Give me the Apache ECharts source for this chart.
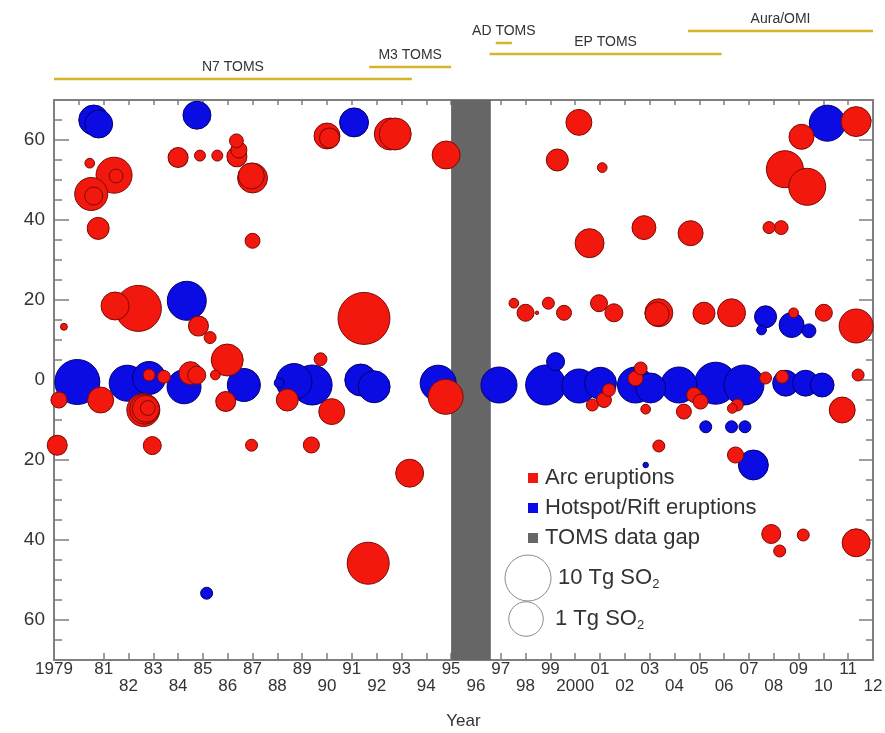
<!DOCTYPE html>
<html>
<head>
<meta charset="utf-8">
<script src="https://cdn.jsdelivr.net/npm/echarts@6/dist/echarts.min.js"></script>
<style>
  html, body { margin: 0; padding: 0; background: #fff; }
  #chart { width: 885px; height: 733px; }
</style>
</head>
<body>
<div id="chart"></div>
<script>
// ---- Eruption data: decimal year, latitude (deg, + north / - south), SO2 mass (kt) ----
const arcYear = [1980.44, 1981.42, 1981.5, 1980.5, 1980.6, 1980.78, 1984.0, 1984.88, 1985.58, 1986.35,
  1986.37, 1986.45, 1987.0, 1986.95, 1987.0, 1981.46, 1982.4, 1979.4, 1984.82, 1985.29,
  1985.98, 1985.5, 1979.2, 1980.88, 1982.6, 1982.65, 1982.7, 1982.78, 1982.83, 1983.43,
  1984.5, 1984.75, 1985.92, 1979.13, 1982.96, 1986.96, 1988.4, 1990.0, 1990.1, 1992.55,
  1992.75, 1994.8, 1991.49, 1989.74, 1990.19, 1989.37, 1993.33, 1991.66, 1994.78, 1997.53,
  1998.0, 1998.46, 1998.92, 1999.55, 1999.28, 2000.15, 2000.58, 2001.09, 2002.77, 2004.65,
  2009.12, 2011.32, 2008.45, 2009.35, 2007.81, 2008.3, 2000.96, 2001.56, 2003.37, 2003.3,
  2005.19, 2006.3, 2008.8, 2010.02, 2011.32, 2011.4, 2010.76, 2003.37, 2006.46, 2007.9,
  2008.24, 2009.19, 2011.32, 2001.36, 2001.16, 2000.69, 2002.64, 2002.43, 2002.84, 2004.38,
  2004.79, 2005.05, 2006.33, 2006.53, 2007.67, 2008.34];
const arcLat = [54.2, 51.2, 51, 46.5, 46, 37.9, 55.6, 56.1, 56.1, 59.8,
  55.8, 57.5, 50.5, 51, 34.8, 18.5, 17.9, 13.3, 13.5, 10.6,
  5, 1.25, -5, -5, -7.5, -7.3, -7.2, -7, 1.25, 0.8,
  1.7, 1.2, -5.4, -16.3, -16.4, -16.3, -5, 61, 60.5, 61.5,
  61.5, 56.25, 15.4, 5.2, -7.9, -16.25, -23.3, -45.8, -4.2, 19.2,
  16.8, 16.8, 19.2, 16.8, 55, 64.4, 34.2, 53.1, 38.1, 36.7,
  60.8, 64.6, 52.7, 48.3, 38.1, 38.1, 19.2, 16.8, 16.8, 16.5,
  16.7, 16.8, 16.8, 16.8, 13.5, 1.25, -7.5, -16.5, -18.75, -38.5,
  -42.75, -38.75, -40.7, -2.5, -5, -6.25, 2.9, 0.4, -7.3, -7.9,
  -3.75, -5.4, -7.1, -6.25, 0.5, 0.8];
const arcSO2kt = [7, 1350, 16, 740, 37, 82, 55, 9, 9, 16,
  55, 25, 400, 180, 20, 270, 10000, 4, 55, 11,
  600, 7, 25, 180, 740, 400, 220, 20, 11, 13,
  100, 37, 55, 55, 37, 11, 82, 180, 55, 600,
  600, 270, 33000, 13, 180, 25, 270, 4500, 1100, 7,
  30, 2, 11, 20, 82, 180, 330, 7, 120, 150,
  150, 400, 1650, 1650, 11, 16, 30, 37, 270, 120,
  82, 270, 7, 30, 900, 11, 180, 11, 25, 45,
  11, 11, 270, 13, 20, 11, 13, 20, 7, 20,
  20, 20, 7, 11, 11, 13];

const hotYear = [1980.6, 1980.8, 1984.76, 1984.35, 1979.94, 1981.95, 1982.83, 1984.24, 1986.65, 1988.07,
  1988.67, 1989.4, 1991.09, 1991.36, 1991.9, 1994.48, 1996.93, 1998.81, 1999.21, 2000.15,
  2001.02, 2002.43, 2003.04, 2004.18, 2005.66, 2006.8, 2008.48, 2009.28, 2009.95, 2010.16,
  2007.67, 2007.51, 2008.72, 2009.42, 2005.26, 2006.3, 2006.84, 2007.18, 2002.84, 1985.15];
const hotLat = [65, 64, 66.2, 19.8, -0.5, -0.8, 0.5, -1.7, -1.25, -0.75,
  -0.4, -1.25, 64.4, 0, -1.7, -0.8, -1.25, -1.25, 4.6, -1.5,
  -0.8, -1.25, -2, -1.25, -0.8, -1.25, -0.8, -0.8, -1.25, 64.2,
  15.8, 12.5, 13.75, 12.3, -11.7, -11.7, -11.7, -21.25, -21.25, -53.3];
const hotSO2kt = [400, 270, 270, 2460, 8200, 1350, 740, 900, 740, 7,
  1350, 3000, 330, 600, 600, 1350, 1350, 3000, 37, 900,
  600, 1350, 400, 1350, 4500, 3000, 180, 180, 120, 1350,
  82, 7, 150, 16, 11, 11, 11, 400, 3, 11];

// TOMS data gap (decimal years)
const gapStart = 1995.0;
const gapEnd = 1996.6;

// Satellite instruments and their operating periods (decimal years)
const instNames = ['N7 TOMS', 'M3 TOMS', 'AD TOMS', 'EP TOMS', 'Aura/OMI'];
const instStart = [1979.0, 1991.7, 1996.8, 1996.55, 2004.55];
const instEnd = [1993.42, 1995.0, 1997.45, 2005.9, 2012.0];

// Axis ticks
const latMajor = [-60, -40, -20, 0, 20, 40, 60];
const latMinor = [-65, -55, -50, -45, -35, -30, -25, -15, -10, -5, 5, 10, 15, 25, 30, 35, 45, 50, 55, 65];
const yearMin = 1979, yearMax = 2012;
const latMin = -70, latMax = 70;

// ---- Layout / style ----
const FONT = "'Liberation Sans', Arial, Helvetica, sans-serif";
const AXIS_COLOR = '#7f7f7f';
const TEXT_COLOR = '#333';
const RED = '#f2180e', RED_EDGE = '#7a0a06';
const BLUE = '#0b0be4', BLUE_EDGE = '#00006e';
const GAP_COLOR = '#666666';
const INST_COLOR = '#d6b42a';
// vertical pixel row of each instrument bar within the header strip
const instRowPx = [79, 67, 43, 54, 31];

// bubble diameter grows with log of SO2 mass
function bubbleSize(kt) { return 11.5 * Math.log10(kt); }

function buildPoints(xs, ys, ms) {
  const pts = xs.map((x, i) => [x, ys[i], ms[i]]);
  // larger bubbles first so smaller ones stay visible on top
  pts.sort((a, b) => b[2] - a[2]);
  return pts;
}

const chart = echarts.init(document.getElementById('chart'), null, { renderer: 'canvas' });

const gridL = 54, gridR = 12;

const option = {
  animation: false,
  backgroundColor: '#fff',
  textStyle: { fontFamily: FONT },
  grid: [
    { left: gridL, right: gridR, top: 100, bottom: 73, outerBoundsMode: 'none', containLabel: false },
    { left: gridL, right: gridR, top: 0, height: 100, outerBoundsMode: 'none', containLabel: false }
  ],
  xAxis: [
    {
      gridIndex: 0, type: 'value', min: yearMin, max: yearMax, interval: 1,
      name: 'Year', nameLocation: 'middle', nameGap: 53,
      nameTextStyle: { fontSize: 17, color: TEXT_COLOR, fontFamily: FONT },
      axisLine: { show: true, onZero: false, lineStyle: { color: AXIS_COLOR, width: 2 } },
      axisTick: { show: true, inside: true, length: 7, lineStyle: { color: AXIS_COLOR, width: 1.5 } },
      splitLine: { show: false },
      axisLabel: {
        show: true, margin: 1, fontSize: 17, lineHeight: 17, color: TEXT_COLOR, fontFamily: FONT,
        showMinLabel: true, showMaxLabel: true,
        formatter: function (v) {
          const y = Math.round(v);
          const s = (y === 1979 || y === 2000) ? String(y) : String(y).slice(2);
          return y % 2 === 0 ? '\n' + s : s;
        }
      }
    },
    {
      gridIndex: 0, type: 'value', position: 'top', min: yearMin, max: yearMax, interval: 1,
      axisLine: { show: true, onZero: false, lineStyle: { color: AXIS_COLOR, width: 2 } },
      axisTick: { show: true, inside: true, length: 5, lineStyle: { color: AXIS_COLOR, width: 1.5 } },
      axisLabel: { show: false }, splitLine: { show: false }
    },
    {
      gridIndex: 1, type: 'value', min: yearMin, max: yearMax, show: false
    }
  ],
  yAxis: [
    {
      gridIndex: 0, type: 'value', position: 'left', min: latMin, max: latMax,
      axisLine: { show: true, onZero: false, lineStyle: { color: AXIS_COLOR, width: 2 } },
      axisTick: { show: true, inside: true, length: 15, customValues: latMajor, lineStyle: { color: AXIS_COLOR, width: 1.5 } },
      axisLabel: {
        show: true, customValues: latMajor, margin: 9, fontSize: 19, color: TEXT_COLOR, fontFamily: FONT,
        formatter: function (v) { return String(Math.abs(v)); }
      },
      splitLine: { show: false }
    },
    {
      gridIndex: 0, type: 'value', position: 'left', min: latMin, max: latMax,
      axisLine: { show: false },
      axisTick: { show: true, inside: true, length: 8, customValues: latMinor, lineStyle: { color: AXIS_COLOR, width: 1.5 } },
      axisLabel: { show: false }, splitLine: { show: false }
    },
    {
      gridIndex: 0, type: 'value', position: 'right', min: latMin, max: latMax,
      axisLine: { show: true, onZero: false, lineStyle: { color: AXIS_COLOR, width: 2 } },
      axisTick: { show: true, inside: true, length: 14, customValues: latMajor, lineStyle: { color: AXIS_COLOR, width: 1.5 } },
      axisLabel: { show: false }, splitLine: { show: false }
    },
    {
      gridIndex: 0, type: 'value', position: 'right', min: latMin, max: latMax,
      axisLine: { show: false },
      axisTick: { show: true, inside: true, length: 7, customValues: latMinor, lineStyle: { color: AXIS_COLOR, width: 1.5 } },
      axisLabel: { show: false }, splitLine: { show: false }
    },
    {
      gridIndex: 1, type: 'value', min: 0, max: 100, inverse: true, show: false
    }
  ],
  legend: {
    orient: 'vertical', left: 523, top: 462, itemGap: 8,
    itemWidth: 10, itemHeight: 10, icon: 'rect',
    itemStyle: { borderWidth: 0 },
    textStyle: { fontSize: 22, color: TEXT_COLOR, fontFamily: FONT, padding: [0, 0, 0, 2] },
    data: ['Arc eruptions', 'Hotspot/Rift eruptions', 'TOMS data gap'],
    selectedMode: false
  },
  graphic: [
    { type: 'circle', x: 528, y: 578, shape: { cx: 0, cy: 0, r: bubbleSize(10000) / 2 },
      style: { fill: 'none', stroke: '#8a8a8a', lineWidth: 1 } },
    { type: 'text', x: 558, y: 578,
      style: { text: '{a|10 Tg SO}{b|2}', verticalAlign: 'middle',
        rich: { a: { fontSize: 22, fill: TEXT_COLOR, fontFamily: FONT },
                b: { fontSize: 13, fill: TEXT_COLOR, fontFamily: FONT, padding: [12, 0, 0, 0] } } } },
    { type: 'circle', x: 526, y: 619, shape: { cx: 0, cy: 0, r: bubbleSize(1000) / 2 },
      style: { fill: 'none', stroke: '#8a8a8a', lineWidth: 1 } },
    { type: 'text', x: 555, y: 619,
      style: { text: '{a|1 Tg SO}{b|2}', verticalAlign: 'middle',
        rich: { a: { fontSize: 22, fill: TEXT_COLOR, fontFamily: FONT },
                b: { fontSize: 13, fill: TEXT_COLOR, fontFamily: FONT, padding: [12, 0, 0, 0] } } } }
  ],
  series: [
    {
      name: 'TOMS data gap', type: 'custom', xAxisIndex: 0, yAxisIndex: 0, z: 1,
      itemStyle: { color: GAP_COLOR },
      encode: { x: [0, 1], y: 2 },
      data: [[gapStart, gapEnd, 0]],
      renderItem: function (params, api) {
        const p0 = api.coord([api.value(0), latMax]);
        const p1 = api.coord([api.value(1), latMin]);
        return { type: 'rect', shape: { x: p0[0], y: p0[1], width: p1[0] - p0[0], height: p1[1] - p0[1] },
                 style: { fill: GAP_COLOR } };
      }
    },
    {
      name: 'Hotspot/Rift eruptions', type: 'scatter', xAxisIndex: 0, yAxisIndex: 0, z: 2,
      symbol: 'circle',
      symbolSize: function (val) { return bubbleSize(val[2]); },
      itemStyle: { color: BLUE, borderColor: BLUE_EDGE, borderWidth: 1, opacity: 1 },
      emphasis: { disabled: true },
      data: buildPoints(hotYear, hotLat, hotSO2kt)
    },
    {
      name: 'Arc eruptions', type: 'scatter', xAxisIndex: 0, yAxisIndex: 0, z: 3,
      symbol: 'circle',
      symbolSize: function (val) { return bubbleSize(val[2]); },
      itemStyle: { color: RED, borderColor: RED_EDGE, borderWidth: 1, opacity: 1 },
      emphasis: { disabled: true },
      data: buildPoints(arcYear, arcLat, arcSO2kt)
    },
    {
      name: 'instruments', type: 'custom', xAxisIndex: 2, yAxisIndex: 4, clip: false,
      encode: { x: [0, 1], y: 2 },
      data: instNames.map((n, i) => [instStart[i], instEnd[i], instRowPx[i]]),
      renderItem: function (params, api) {
        const s = api.coord([api.value(0), api.value(2)]);
        const e = api.coord([api.value(1), api.value(2)]);
        return {
          type: 'group',
          children: [
            { type: 'line', shape: { x1: s[0], y1: s[1], x2: e[0], y2: e[1] },
              style: { stroke: INST_COLOR, lineWidth: 2.5 } },
            { type: 'text',
              style: { text: instNames[params.dataIndex], x: (s[0] + e[0]) / 2, y: s[1] - 5,
                       align: 'center', verticalAlign: 'bottom', fill: TEXT_COLOR,
                       font: '14px ' + FONT } }
          ]
        };
      }
    }
  ]
};

chart.setOption(option);
</script>
</body>
</html>
